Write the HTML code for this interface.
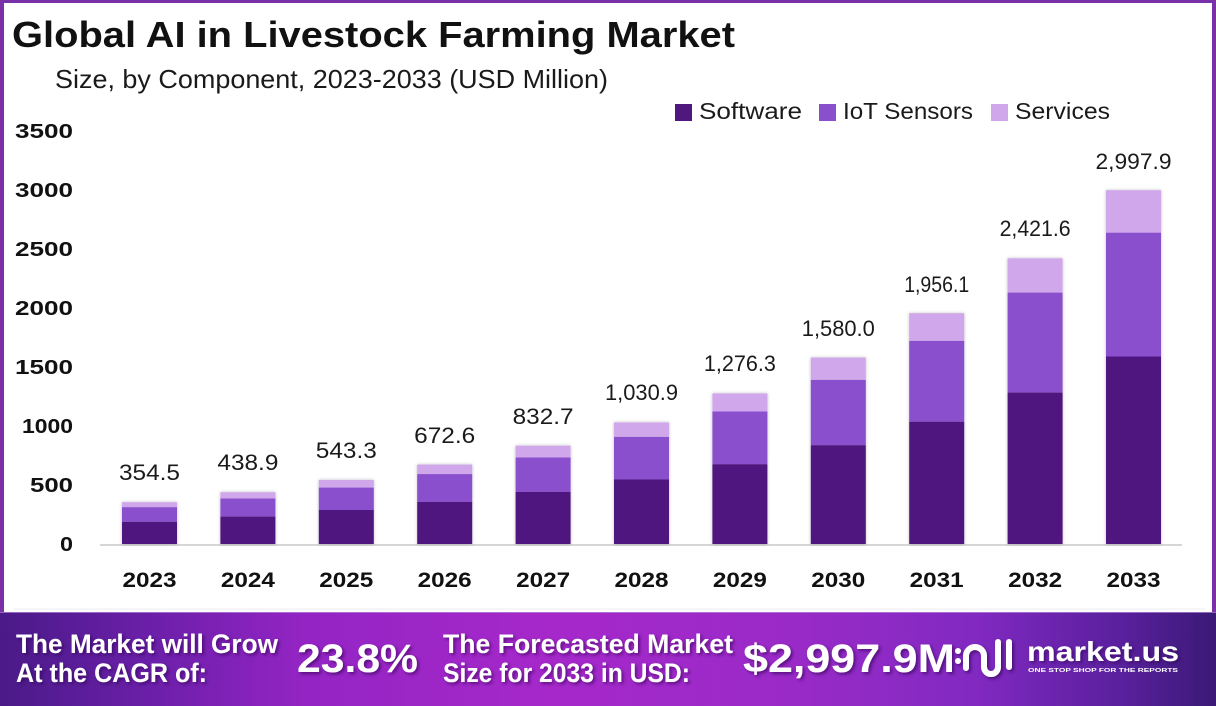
<!DOCTYPE html>
<html>
<head>
<meta charset="utf-8">
<style>
  html,body{margin:0;padding:0;background:#fff;}
  svg{display:block;}
  text{font-family:"Liberation Sans",sans-serif;}
</style>
</head>
<body>
<svg width="1216" height="706" viewBox="0 0 1216 706" xmlns="http://www.w3.org/2000/svg">
  <defs>
    <linearGradient id="ban" x1="0" y1="0" x2="1" y2="0">
      <stop offset="0" stop-color="#4a1a88"/>
      <stop offset="0.12" stop-color="#6a1fa8"/>
      <stop offset="0.25" stop-color="#9424c4"/>
      <stop offset="0.45" stop-color="#a628ca"/>
      <stop offset="0.65" stop-color="#9a2ac8"/>
      <stop offset="0.8" stop-color="#8229c2"/>
      <stop offset="0.92" stop-color="#5a209e"/>
      <stop offset="1" stop-color="#3a1a76"/>
    </linearGradient>
    <filter id="bsh" x="-10%" y="-5%" width="120%" height="110%">
      <feDropShadow dx="0" dy="0" stdDeviation="1.5" flood-color="#000" flood-opacity="0.25"/>
    </filter>
    <filter id="tsh" x="-10%" y="-20%" width="120%" height="150%">
      <feDropShadow dx="2" dy="2" stdDeviation="1.5" flood-color="#2a0050" flood-opacity="0.6"/>
    </filter>
  </defs>

  <!-- frame -->
  <rect x="0" y="0" width="1216" height="706" fill="#7a30a6"/>
  <rect x="4" y="3" width="1208" height="609" fill="#ffffff"/>

  <!-- title -->
  <text x="12" y="47" font-size="36" font-weight="bold" fill="#111" textLength="723" lengthAdjust="spacingAndGlyphs">Global AI in Livestock Farming Market</text>
  <text x="55" y="88" font-size="26" fill="#1a1a1a" textLength="553" lengthAdjust="spacingAndGlyphs">Size, by Component, 2023-2033 (USD Million)</text>

  <!-- legend -->
  <rect x="675" y="104" width="17" height="17" fill="#50177f"/>
  <text x="699" y="119" font-size="23" fill="#1a1a1a" textLength="103" lengthAdjust="spacingAndGlyphs">Software</text>
  <rect x="819" y="104" width="17" height="17" fill="#8a4fcc"/>
  <text x="843" y="119" font-size="23" fill="#1a1a1a" textLength="130" lengthAdjust="spacingAndGlyphs">IoT Sensors</text>
  <rect x="991" y="104" width="17" height="17" fill="#d0a7ea"/>
  <text x="1015" y="119" font-size="23" fill="#1a1a1a" textLength="95" lengthAdjust="spacingAndGlyphs">Services</text>

  <!-- y axis labels -->
  <g font-size="20" font-weight="bold" fill="#111" text-anchor="end">
    <text x="73" y="138" textLength="58" lengthAdjust="spacingAndGlyphs">3500</text>
    <text x="73" y="197" textLength="58" lengthAdjust="spacingAndGlyphs">3000</text>
    <text x="73" y="256" textLength="58" lengthAdjust="spacingAndGlyphs">2500</text>
    <text x="73" y="315" textLength="58" lengthAdjust="spacingAndGlyphs">2000</text>
    <text x="73" y="374" textLength="58" lengthAdjust="spacingAndGlyphs">1500</text>
    <text x="73" y="433" textLength="51" lengthAdjust="spacingAndGlyphs">1000</text>
    <text x="73" y="492" textLength="43" lengthAdjust="spacingAndGlyphs">500</text>
    <text x="73" y="551" textLength="13" lengthAdjust="spacingAndGlyphs">0</text>
  </g>

  <!-- axis line -->
  <line x1="100" y1="545" x2="1182" y2="545" stroke="#d6d6d6" stroke-width="2"/>
  <line x1="14" y1="609" x2="1205" y2="609" stroke="#eeeeee" stroke-width="1"/>

  <!-- bars -->
  <g filter="url(#bsh)">
    <!-- 2023 -->
    <rect x="122" y="502.2" width="55" height="5.0" fill="#d0a7ea"/>
    <rect x="122" y="507.2" width="55" height="14.6" fill="#8a4fcc"/>
    <rect x="122" y="521.8" width="55" height="22.2" fill="#50177f"/>
    <!-- 2024 -->
    <rect x="220.4" y="492.2" width="55" height="6.3" fill="#d0a7ea"/>
    <rect x="220.4" y="498.5" width="55" height="18.1" fill="#8a4fcc"/>
    <rect x="220.4" y="516.6" width="55" height="27.4" fill="#50177f"/>
    <!-- 2025 -->
    <rect x="318.8" y="479.9" width="55" height="7.7" fill="#d0a7ea"/>
    <rect x="318.8" y="487.6" width="55" height="22.4" fill="#8a4fcc"/>
    <rect x="318.8" y="510.0" width="55" height="34.0" fill="#50177f"/>
    <!-- 2026 -->
    <rect x="417.2" y="464.6" width="55" height="9.5" fill="#d0a7ea"/>
    <rect x="417.2" y="474.1" width="55" height="27.8" fill="#8a4fcc"/>
    <rect x="417.2" y="501.9" width="55" height="42.1" fill="#50177f"/>
    <!-- 2027 -->
    <rect x="515.6" y="445.7" width="55" height="11.8" fill="#d0a7ea"/>
    <rect x="515.6" y="457.5" width="55" height="34.4" fill="#8a4fcc"/>
    <rect x="515.6" y="491.9" width="55" height="52.1" fill="#50177f"/>
    <!-- 2028 -->
    <rect x="614" y="422.4" width="55" height="14.5" fill="#d0a7ea"/>
    <rect x="614" y="436.9" width="55" height="42.6" fill="#8a4fcc"/>
    <rect x="614" y="479.5" width="55" height="64.5" fill="#50177f"/>
    <!-- 2029 -->
    <rect x="712.4" y="393.4" width="55" height="18.1" fill="#d0a7ea"/>
    <rect x="712.4" y="411.5" width="55" height="52.7" fill="#8a4fcc"/>
    <rect x="712.4" y="464.2" width="55" height="79.8" fill="#50177f"/>
    <!-- 2030 -->
    <rect x="810.8" y="357.6" width="55" height="22.3" fill="#d0a7ea"/>
    <rect x="810.8" y="379.9" width="55" height="65.3" fill="#8a4fcc"/>
    <rect x="810.8" y="445.2" width="55" height="98.8" fill="#50177f"/>
    <!-- 2031 -->
    <rect x="909.2" y="313.2" width="55" height="27.7" fill="#d0a7ea"/>
    <rect x="909.2" y="340.9" width="55" height="80.8" fill="#8a4fcc"/>
    <rect x="909.2" y="421.7" width="55" height="122.3" fill="#50177f"/>
    <!-- 2032 -->
    <rect x="1007.6" y="258.3" width="55" height="34.3" fill="#d0a7ea"/>
    <rect x="1007.6" y="292.6" width="55" height="100.0" fill="#8a4fcc"/>
    <rect x="1007.6" y="392.6" width="55" height="151.4" fill="#50177f"/>
    <!-- 2033 -->
    <rect x="1106" y="190.2" width="55" height="42.5" fill="#d0a7ea"/>
    <rect x="1106" y="232.7" width="55" height="123.8" fill="#8a4fcc"/>
    <rect x="1106" y="356.5" width="55" height="187.5" fill="#50177f"/>
  </g>

  <!-- value labels -->
  <g font-size="22" fill="#1a1a1a" text-anchor="middle">
    <text x="149.5" y="480" textLength="61" lengthAdjust="spacingAndGlyphs">354.5</text>
    <text x="247.9" y="470" textLength="61" lengthAdjust="spacingAndGlyphs">438.9</text>
    <text x="346.3" y="458" textLength="61" lengthAdjust="spacingAndGlyphs">543.3</text>
    <text x="444.7" y="443" textLength="61" lengthAdjust="spacingAndGlyphs">672.6</text>
    <text x="543.1" y="424" textLength="61" lengthAdjust="spacingAndGlyphs">832.7</text>
    <text x="641.5" y="400" textLength="73" lengthAdjust="spacingAndGlyphs">1,030.9</text>
    <text x="739.9" y="371" textLength="72" lengthAdjust="spacingAndGlyphs">1,276.3</text>
    <text x="838.3" y="336" textLength="73" lengthAdjust="spacingAndGlyphs">1,580.0</text>
    <text x="936.7" y="292" textLength="65" lengthAdjust="spacingAndGlyphs">1,956.1</text>
    <text x="1035.1" y="236" textLength="71" lengthAdjust="spacingAndGlyphs">2,421.6</text>
    <text x="1133.5" y="169" textLength="76" lengthAdjust="spacingAndGlyphs">2,997.9</text>
  </g>

  <!-- x labels -->
  <g font-size="21" font-weight="bold" fill="#111" text-anchor="middle">
    <text x="149.5" y="587" textLength="54" lengthAdjust="spacingAndGlyphs">2023</text>
    <text x="247.9" y="587" textLength="54" lengthAdjust="spacingAndGlyphs">2024</text>
    <text x="346.3" y="587" textLength="54" lengthAdjust="spacingAndGlyphs">2025</text>
    <text x="444.7" y="587" textLength="54" lengthAdjust="spacingAndGlyphs">2026</text>
    <text x="543.1" y="587" textLength="54" lengthAdjust="spacingAndGlyphs">2027</text>
    <text x="641.5" y="587" textLength="54" lengthAdjust="spacingAndGlyphs">2028</text>
    <text x="739.9" y="587" textLength="54" lengthAdjust="spacingAndGlyphs">2029</text>
    <text x="838.3" y="587" textLength="54" lengthAdjust="spacingAndGlyphs">2030</text>
    <text x="936.7" y="587" textLength="54" lengthAdjust="spacingAndGlyphs">2031</text>
    <text x="1035.1" y="587" textLength="54" lengthAdjust="spacingAndGlyphs">2032</text>
    <text x="1133.5" y="587" textLength="54" lengthAdjust="spacingAndGlyphs">2033</text>
  </g>

  <!-- banner -->
  <rect x="0" y="612" width="1216" height="94" fill="url(#ban)"/>
  <line x1="0" y1="612.5" x2="1216" y2="612.5" stroke="#b88ad6" stroke-width="1" opacity="0.7"/>

  <g fill="#ffffff" font-weight="bold" filter="url(#tsh)">
    <text x="16" y="653" font-size="27" textLength="262" lengthAdjust="spacingAndGlyphs">The Market will Grow</text>
    <text x="16" y="682" font-size="27" textLength="191" lengthAdjust="spacingAndGlyphs">At the CAGR of:</text>
    <text x="297" y="672" font-size="40" textLength="121" lengthAdjust="spacingAndGlyphs">23.8%</text>
    <text x="443" y="653" font-size="27" textLength="290" lengthAdjust="spacingAndGlyphs">The Forecasted Market</text>
    <text x="443" y="682" font-size="27" textLength="247" lengthAdjust="spacingAndGlyphs">Size for 2033 in USD:</text>
    <text x="743" y="672" font-size="40" textLength="212" lengthAdjust="spacingAndGlyphs">$2,997.9M</text>
  </g>

  <!-- logo -->
  <g filter="url(#tsh)">
    <circle cx="958" cy="651" r="3" fill="#fff"/>
    <circle cx="958" cy="661" r="3" fill="#fff"/>
    <path d="M966 668 V656 A9 9 0 0 1 984 656 V667 A7 7 0 0 0 998 667 V642" fill="none" stroke="#fff" stroke-width="6" stroke-linecap="round"/>
    <path d="M1009 642 V667" fill="none" stroke="#fff" stroke-width="6" stroke-linecap="round"/>
    <text x="1027" y="661" font-size="28" font-weight="bold" fill="#fff" textLength="152" lengthAdjust="spacingAndGlyphs">market.us</text>
  </g>
  <text x="1028" y="672" font-size="5.5" font-weight="bold" fill="#ffffff" textLength="150" lengthAdjust="spacingAndGlyphs">ONE STOP SHOP FOR THE REPORTS</text>
</svg>
</body>
</html>
